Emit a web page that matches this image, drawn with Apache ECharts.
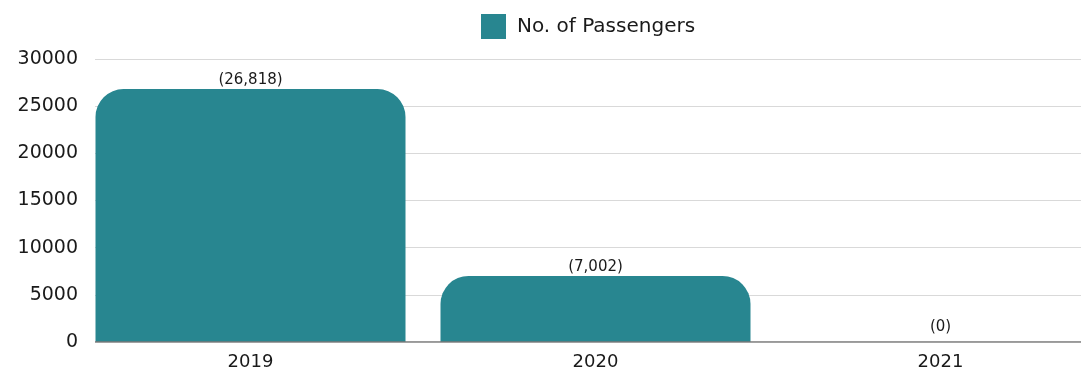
<!DOCTYPE html>
<html>
<head>
<meta charset="utf-8">
<script src="https://cdn.jsdelivr.net/npm/echarts@6/dist/echarts.min.js"></script>
<style>
  html, body { margin: 0; padding: 0; background: #ffffff; }
  #chart { width: 1081px; height: 371px; }
</style>
</head>
<body>
<div id="chart"></div>
<script>
// Passenger counts per year
const years = ['2019', '2020', '2021'];
const passengers = [26818, 7002, 0];
const seriesName = 'No. of Passengers';
const yTicks = { min: 0, max: 30000, interval: 5000 };

const barColor = '#288690';
const fontFamily = '"DejaVu Sans", "Noto Sans", sans-serif';

// empty bars get their value label lifted a little off the baseline
const barData = passengers.map(v => (v === 0 ? { value: v, label: { distance: 7 } } : v));

const chart = echarts.init(document.getElementById('chart'), null, { renderer: 'canvas' });

chart.setOption({
  animation: false,
  backgroundColor: '#ffffff',
  legend: {
    data: [seriesName],
    top: 14,
    left: 481,
    padding: 0,
    itemWidth: 25,
    itemHeight: 25,
    textStyle: { fontFamily, fontSize: 20, color: '#1a1a1a', padding: [0, 0, 0, 6] },
    icon: 'rect'
  },
  grid: [
    // scale grid: value axis labels and horizontal rules
    { left: 95, right: 0, top: 59, bottom: 29, containLabel: false },
    // bar grid: category bands laid out across the plot, running past the right edge
    { left: 78, width: 1035, top: 59, bottom: 29, containLabel: false, outerBoundsMode: 'none' }
  ],
  xAxis: [
    {
      gridIndex: 0,
      type: 'value',
      min: 0, max: 1,
      axisLabel: { show: false },
      axisTick: { show: false },
      splitLine: { show: false },
      axisLine: { show: false }
    },
    {
      gridIndex: 1,
      type: 'category',
      data: years,
      axisTick: { show: false },
      axisLine: { show: false },
      axisLabel: { fontFamily, fontSize: 18, color: '#1a1a1a', margin: 11 }
    }
  ],
  yAxis: [
    {
      gridIndex: 0,
      type: 'value',
      min: yTicks.min, max: yTicks.max, interval: yTicks.interval,
      axisLabel: {
        fontFamily, fontSize: 19, color: '#1a1a1a', margin: 17,
        padding: [6, 0, 0, 0],
        formatter: v => String(v)
      },
      axisLine: { show: false },
      axisTick: { show: false },
      splitLine: { lineStyle: { color: '#d9d9d9', width: 1 } }
    },
    {
      gridIndex: 1,
      type: 'value',
      min: yTicks.min, max: yTicks.max, interval: yTicks.interval,
      axisLabel: { show: false },
      axisLine: { show: false },
      axisTick: { show: false },
      splitLine: { show: false }
    }
  ],
  series: [
    {
      // baseline rule along the scale grid
      type: 'line',
      xAxisIndex: 0,
      yAxisIndex: 0,
      data: [[0, 0], [1, 0]],
      symbol: 'none',
      silent: true,
      lineStyle: { color: '#777', width: 1.5 },
      legendHoverLink: false,
      tooltip: { show: false }
    },
    {
      name: seriesName,
      type: 'bar',
      xAxisIndex: 1,
      yAxisIndex: 1,
      data: barData,
      barWidth: 310,
      itemStyle: { color: barColor, borderRadius: [28, 28, 0, 0] },
      label: {
        show: true,
        position: 'top',
        distance: 1,
        fontFamily,
        fontSize: 15,
        color: '#1a1a1a',
        formatter: p => '(' + p.value.toLocaleString('en-US') + ')'
      },
      z: 1
    }
  ]
});
</script>
</body>
</html>
